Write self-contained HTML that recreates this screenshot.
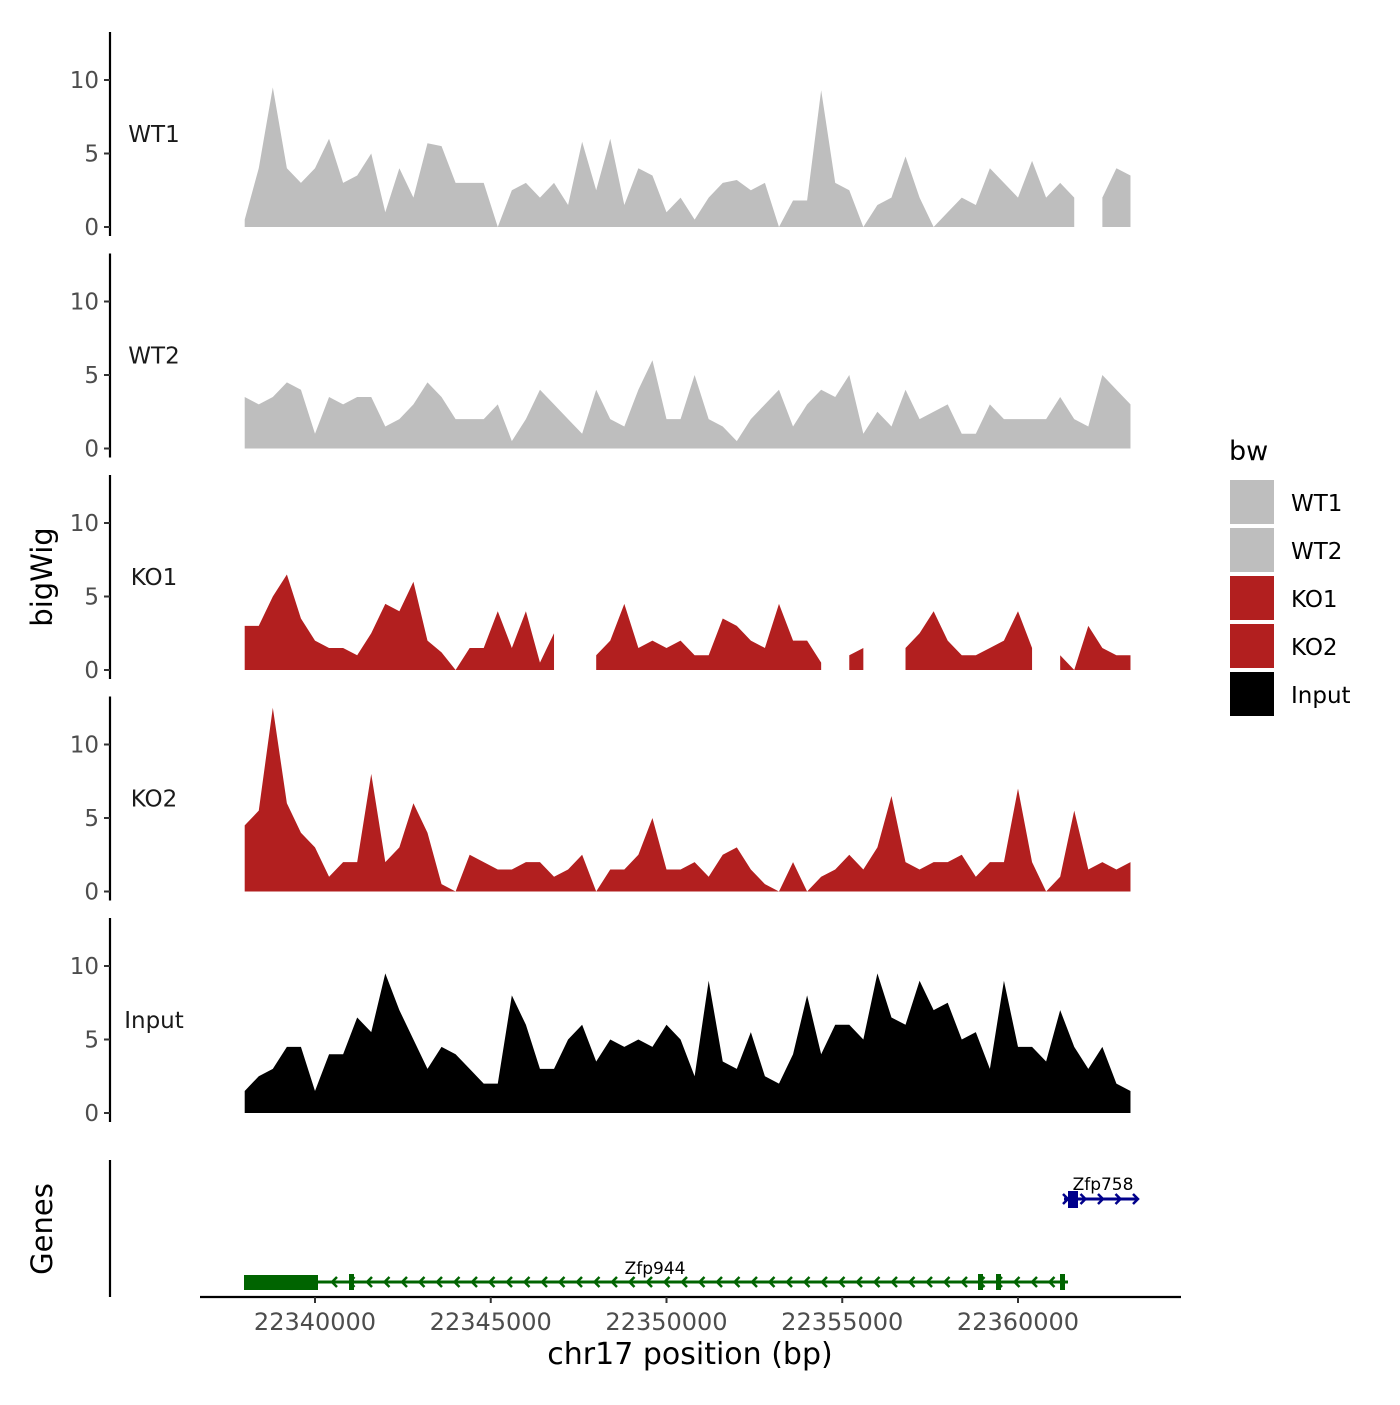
<!DOCTYPE html>
<html><head><meta charset="utf-8"><style>
body{margin:0;background:#fff}
svg text{font-family:"DejaVu Sans","Liberation Sans",sans-serif}
</style></head><body>
<svg id="chart" width="1400" height="1400" viewBox="0 0 1400 1400" xmlns="http://www.w3.org/2000/svg">
<rect width="1400" height="1400" fill="#fff"/>
</svg>
<script>
const binStart = 22338000;
const binWidth = 400;
const trackNames = ["WT1","WT2","KO1","KO2","Input"];
const trackColors = ["#bebebe","#bebebe","#b21f1f","#b21f1f","#000000"];
const wt1 = [0.5,4,9.5,4,3,4,6,3,3.5,5,1,4,2,5.7,5.5,3,3,3,0,2.5,3,2,3,1.5,5.8,2.5,6,1.5,4,3.5,1,2,0.5,2,3,3.2,2.5,3,0,1.8,1.8,9.3,3,2.5,0,1.5,2,4.8,2,0,1,2,1.5,4,3,2,4.5,2,3,2,null,2,4,3.5];
const wt2 = [3.5,3,3.5,4.5,4,1,3.5,3,3.5,3.5,1.5,2,3,4.5,3.5,2,2,2,3,0.5,2,4,3,2,1,4,2,1.5,4,6,2,2,5,2,1.5,0.5,2,3,4,1.5,3,4,3.5,5,1,2.5,1.5,4,2,2.5,3,1,1,3,2,2,2,2,3.5,2,1.5,5,4,3];
const ko1 = [3,3,5,6.5,3.5,2,1.5,1.5,1,2.5,4.5,4,6,2,1.2,0,1.5,1.5,4,1.5,4,0.5,2.5,null,null,1,2,4.5,1.5,2,1.5,2,1,1,3.5,3,2,1.5,4.5,2,2,0.5,null,1,1.5,null,null,1.5,2.5,4,2,1,1,1.5,2,4,1.5,null,1,0,3,1.5,1,1];
const ko2 = [4.5,5.5,12.5,6,4,3,1,2,2,8,2,3,6,4,0.5,0,2.5,2,1.5,1.5,2,2,1,1.5,2.5,0,1.5,1.5,2.5,5,1.5,1.5,2,1,2.5,3,1.5,0.5,0,2,0,1,1.5,2.5,1.5,3,6.5,2,1.5,2,2,2.5,1,2,2,7,2,0,1,5.5,1.5,2,1.5,2];
const input = [1.5,2.5,3,4.5,4.5,1.5,4,4,6.5,5.5,9.5,7,5,3,4.5,4,3,2,2,8,6,3,3,5,6,3.5,5,4.5,5,4.5,6,5,2.5,9,3.5,3,5.5,2.5,2,4,8,4,6,6,5,9.5,6.5,6,9,7,7.5,5,5.5,3,9,4.5,4.5,3.5,7,4.5,3,4.5,2,1.5];
const trackValues = [wt1,wt2,ko1,ko2,input];
const xTicks = [22340000,22345000,22350000,22355000,22360000];
const yTicks = [0,5,10];

const NS="http://www.w3.org/2000/svg";
const svg=document.getElementById('chart');
function mk(tag,attrs,parent){const e=document.createElementNS(NS,tag);for(const k in attrs)e.setAttribute(k,attrs[k]);(parent||svg).appendChild(e);return e;}
const xs = bp => 315 + (bp-22340000)*0.03515;
const panelZero=[227,448.5,670,891.5,1113];
const yScale=14.7;

trackValues.forEach((vals,t)=>{
  const y0=panelZero[t];
  const g=mk('g',{});
  
  
  let seg=[];
  const flush=()=>{
    if(seg.length){
      let d='M'+seg[0][0]+','+y0;
      seg.forEach(p=>d+=' L'+p[0]+','+p[1]);
      d+=' L'+seg[seg.length-1][0]+','+y0+' Z';
      const p=mk('path',{d:d,fill:trackColors[t]},g);
      
      
    }
    seg=[];
  };
  vals.forEach((v,i)=>{
    const x=xs(binStart+i*binWidth);
    if(v===null){flush();}
    else seg.push([x,y0-v*yScale]);
  });
  flush();
  const ax=mk('line',{x1:110,x2:110,y1:y0-195,y2:y0+9,stroke:'#000','stroke-width':2.2});
  
  
  yTicks.forEach(v=>{
    const y=y0-v*yScale;
    mk('line',{x1:104,x2:110,y1:y,y2:y,stroke:'#333','stroke-width':2});
    const tx=mk('text',{x:99,y:y+8,'text-anchor':'end','font-size':23,fill:'#4d4d4d'});
    tx.textContent=v;
    
    
  });
  const lb=mk('text',{x:154,y:y0-85,'text-anchor':'middle','font-size':23,fill:'#1a1a1a'});
  lb.textContent=trackNames[t];
  
  
});

let tt=mk('text',{x:0,y:0,'font-size':29,'text-anchor':'middle',transform:'translate(52,577) rotate(-90)'});
tt.textContent='bigWig';


tt=mk('text',{x:0,y:0,'font-size':29,'text-anchor':'middle',transform:'translate(52,1229) rotate(-90)'});
tt.textContent='Genes';



mk('line',{x1:110,x2:110,y1:1160,y2:1297,stroke:'#000','stroke-width':2.2});
mk('line',{x1:200,x2:1181,y1:1297,y2:1297,stroke:'#000','stroke-width':2.2});
xTicks.forEach(b=>{
  const x=xs(b);
  mk('line',{x1:x,x2:x,y1:1297,y2:1303,stroke:'#333','stroke-width':2});
  const tx=mk('text',{x:x,y:1330,'text-anchor':'middle','font-size':24,fill:'#4d4d4d'});
  tx.textContent=b;
  
  
});
tt=mk('text',{x:690,y:1364,'text-anchor':'middle','font-size':30});
tt.textContent='chr17 position (bp)';



const g1=mk('g',{});


mk('line',{x1:245,x2:1068,y1:1282,y2:1282,stroke:'#006400','stroke-width':3},g1);
mk('rect',{x:244,y:1275,width:74,height:15,fill:'#006400'},g1);
[351,980,998,1062].forEach(x=>mk('rect',{x:x-2,y:1274,width:5,height:16,fill:'#006400'},g1));
for(let x=332;x<1060;x+=17.5){mk('path',{d:`M${x+5},${1277} L${x},1282 L${x+5},1287`,stroke:'#006400','stroke-width':2.5,fill:'none'},g1);}
let gl=mk('text',{x:655,y:1274,'text-anchor':'middle','font-size':17},g1);gl.textContent='Zfp944';
const g2=mk('g',{});


mk('line',{x1:1064,x2:1138,y1:1199,y2:1199,stroke:'#00008b','stroke-width':3},g2);
mk('rect',{x:1068,y:1191,width:10,height:17,fill:'#00008b'},g2);
for(let x=1068;x<1140;x+=17.5){mk('path',{d:`M${x-5},1194 L${x},1199 L${x-5},1204`,stroke:'#00008b','stroke-width':2.5,fill:'none'},g2);}
gl=mk('text',{x:1103,y:1190,'text-anchor':'middle','font-size':17},g2);gl.textContent='Zfp758';

const lg=mk('g',{});


let lt=mk('text',{x:1229,y:460,'font-size':27},lg);lt.textContent='bw';
trackNames.forEach((n,i)=>{
  const y=480+i*48;
  const r=mk('rect',{x:1230,y:y,width:44,height:44,fill:trackColors[i]},lg);
  
  
  const t=mk('text',{x:1291,y:y+31,'font-size':23},lg);
  t.textContent=n;
  
  
});
</script>
</body></html>
